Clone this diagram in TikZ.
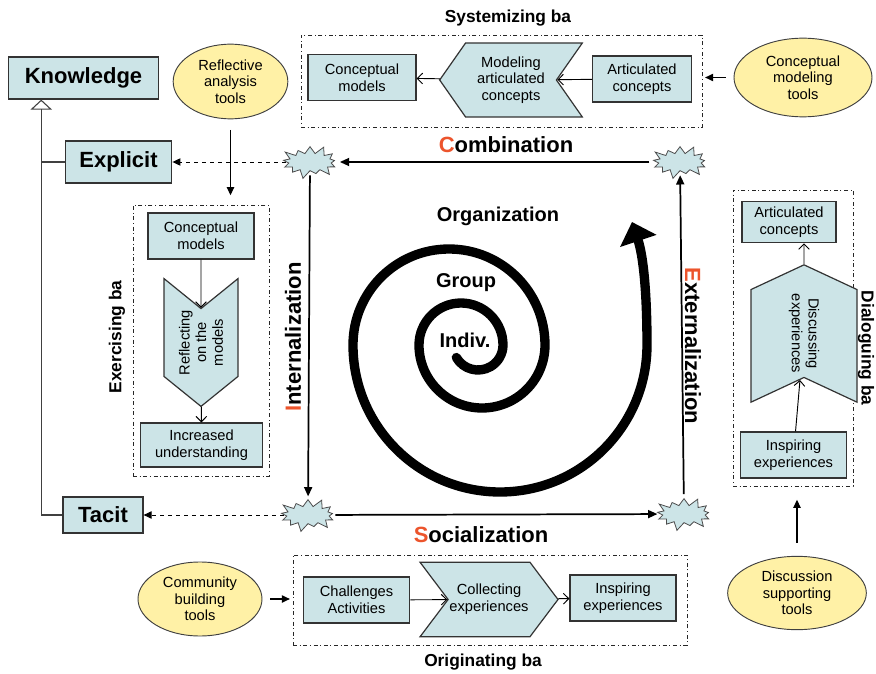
\documentclass[tikz,border=0pt]{standalone}
\usepackage{fontspec}
\setmainfont{Liberation Sans}
\usetikzlibrary{arrows.meta}
\usetikzlibrary{shapes.geometric}
\usetikzlibrary{shapes.symbols}
\usetikzlibrary{positioning}
\definecolor{boxblue}{RGB}{204,228,231}
\definecolor{toolyellow}{RGB}{255,241,166}
\definecolor{modered}{RGB}{236,84,44}
\tikzset{box/.style={draw=black!80, fill=boxblue, line width=0.9pt, align=center, font=\fontsize{11}{12.5}\selectfont, inner sep=1pt}}
\tikzset{kind/.style={box, font=\fontsize{16.5}{18}\selectfont\bfseries}}
\tikzset{tool/.style={ellipse, draw=black!75, fill=toolyellow, line width=0.7pt, align=center, font=\fontsize{11}{12.5}\selectfont, inner sep=0pt}}
\tikzset{chev/.style={signal, draw=black!80, fill=boxblue, line width=0.9pt, align=center, font=\fontsize{11}{12.5}\selectfont, inner sep=1pt}}
\tikzset{burst/.style={starburst, starburst points=13, starburst point height=7pt, draw=black!70, fill=boxblue, line width=0.6pt, inner sep=0pt, minimum width=46pt, minimum height=27pt}}
\tikzset{baframe/.style={draw=black!85, line width=0.7pt, dash dot}}
\tikzset{baname/.style={font=\fontsize{13}{15}\selectfont\bfseries}}
\tikzset{modename/.style={font=\fontsize{16.5}{18}\selectfont\bfseries}}
\tikzset{tier/.style={font=\fontsize{15}{17}\selectfont\bfseries}}
\tikzset{conv/.style={-{Triangle[length=7pt,width=6pt]}, line width=1.3pt}}
\tikzset{flow/.style={-{Straight Barb[length=4pt,width=8pt]}, line width=0.7pt}}
\tikzset{feed/.style={-{Triangle[length=6pt,width=5.5pt]}, line width=0.8pt}}
\tikzset{trace/.style={dashed, -{Triangle[length=6pt,width=5.5pt]}, line width=0.7pt}}
\tikzset{hier/.style={draw=black!75, line width=0.8pt}}
\newcommand{\initial}[1]{\textcolor{modered}{#1}}

\begin{document}
\begin{tikzpicture}[x=0.75pt, y=-0.75pt]
        \useasboundingbox (0,0) rectangle (876,674);

        % knowledge kinds
        \node[kind, minimum width=112pt, minimum height=31.5pt] (know) at (83.5,78) {Knowledge};
        \node[kind, minimum width=80pt, minimum height=31.5pt] (expl) at (118.5,162) {Explicit};
        \node[kind, minimum width=60pt, minimum height=27pt] (tacit) at (103,515) {Tacit};

        \draw[hier, -{Triangle[open, length=7.5pt, width=16pt]}]
            (tacit.west) -| ([xshift=24.75pt]know.south west);
        \draw[hier] (expl.west) -- ++(-17.25pt,0);

        % tools
        \node[tool, minimum width=86pt, minimum height=56pt] (refl-tool) at (230.5,81.5) {Reflective\\analysis\\tools};
        \node[tool, minimum width=103.5pt, minimum height=59pt] (cmt-tool) at (803,77.5) {Conceptual\\modeling\\tools};
        \node[tool, minimum width=93pt, minimum height=55.5pt] (cbt-tool) at (200,599) {Community\\building\\tools};
        \node[tool, minimum width=104pt, minimum height=55pt] (dst-tool) at (797,593) {Discussion\\supporting\\tools};

        % conversion points
        \node[burst] (s-tl) at (310,162) {};
        \node[burst] (s-tr) at (680,162) {};
        \node[burst] (s-bl) at (308,515) {};
        \node[burst] (s-br) at (684,514) {};

        % systemizing ba
        \node[baname] (sys-l) at (508,18) {Systemizing ba};
        \node[baframe, minimum width=300.75pt, minimum height=69pt] (sys-ba) at (501.5,81) {};
        \node[box, minimum width=81pt, minimum height=34pt] (sys-cm) at (362,77.5) {Conceptual\\models};
        \node[chev, signal to=west, signal from=east, signal pointer angle=110,
            minimum width=107pt, minimum height=55.5pt] (sys-mod) at (511,80) {Modeling\\articulated\\concepts};
        \node[box, minimum width=74pt, minimum height=34.5pt] (sys-ac) at (642,79) {Articulated\\concepts};
        \draw[flow] (sys-ac) -- (sys-mod);
        \draw[flow] (sys-mod) -- (sys-cm);

        % exercising ba
        \node[baname, rotate=90] (ex-l) at (117,337) {Exercising ba};
        \node[baframe, minimum width=102pt, minimum height=203.25pt] (ex-ba) at (201,340.5) {};
        \node[box, minimum width=79.5pt, minimum height=34.5pt] (ex-cm) at (201,236) {Conceptual\\models};
        \node[chev, rotate=90, signal to=west, signal from=east, signal pointer angle=102,
            minimum width=91pt, minimum height=55.5pt] (ex-refl) at (201,342.5) {Reflecting\\on the\\models};
        \node[box, minimum width=91pt, minimum height=33pt] (ex-iu) at (201.5,445) {Increased\\understanding};
        \draw[flow] (ex-cm) -- (ex-refl);
        \draw[flow] (ex-refl) -- (ex-iu);

        % dialoguing ba
        \node[baname, rotate=-90] (dl-l) at (866,348) {Dialoguing ba};
        \node[baframe, minimum width=90pt, minimum height=222pt] (dl-ba) at (793,338) {};
        \node[box, minimum width=70.5pt, minimum height=31pt] (dl-ac) at (789,222) {Articulated\\concepts};
        \node[chev, rotate=-90, signal to=west, signal from=east, signal pointer angle=130,
            minimum width=103pt, minimum height=79.5pt] (dl-disc) at (804,333.5) {Discussing\\experiences};
        \node[box, minimum width=80pt, minimum height=34.5pt] (dl-ie) at (793.5,455) {Inspiring\\experiences};
        \draw[flow] (dl-ie) -- (dl-disc);
        \draw[flow] (dl-disc) -- (dl-disc |- dl-ac.south);

        % originating ba
        \node[baname] (or-l) at (483,662) {Originating ba};
        \node[baframe, minimum width=295.5pt, minimum height=67.5pt] (or-ba) at (490,600) {};
        \node[box, minimum width=80pt, minimum height=34.5pt] (or-ca) at (356.5,600) {Challenges\\Activities};
        \node[chev, signal to=east, signal from=west, signal pointer angle=106,
            minimum width=96pt, minimum height=56pt] (or-coll) at (489,599.5) {Collecting\\experiences};
        \node[box, minimum width=79.5pt, minimum height=34.5pt] (or-ie) at (623,598) {Inspiring\\experiences};
        \draw[flow] (or-ca) -- (or-coll);
        \draw[flow] (or-coll) -- (or-ie);

        % tools feed the ba
        \draw[feed, shorten <=8pt, shorten >=7pt] (refl-tool) -- (refl-tool |- ex-ba.north);
        \draw[feed, shorten <=6pt, shorten >=2pt] (cmt-tool) -- (cmt-tool -| sys-ba.east);
        \draw[feed, shorten <=6pt, shorten >=2pt] (cbt-tool) -- (cbt-tool -| or-ba.west);
        \draw[feed, shorten <=10pt, shorten >=10pt] (dst-tool) -- (dst-tool |- dl-ba.south);

        % the four conversions
        \draw[conv, shorten <=5pt, shorten >=5pt] (s-tr) -- (s-tl);
        \draw[conv, shorten <=3pt, shorten >=2pt] (s-tl) -- (s-bl);
        \draw[conv, shorten <=3pt, shorten >=2pt] (s-bl) -- (s-br);
        \draw[conv, shorten <=3pt, shorten >=3pt] (s-br) -- (s-tr);
        \draw[trace] (s-tl) -- (expl);
        \draw[trace] (s-bl) -- (tacit);

        \node[modename] (comb-l) at (506,145) {\initial{C}ombination};
        \node[modename, rotate=90] (int-l) at (293,337) {\initial{I}nternalization};
        \node[modename] (soc-l) at (481,535) {\initial{S}ocialization};
        \node[modename, rotate=-90] (ext-l) at (693,346) {\initial{E}xternalization};

        % spiral
        \draw[line width=7pt, line cap=round, -{Triangle[length=15pt,width=28pt]}]
            (478,345) ++(150:25) arc[start angle=150, end angle=0, radius=25]
            arc[start angle=0, end angle=-180, radius=42]
            arc[start angle=180, end angle=0, radius=63]
            arc[start angle=0, end angle=-180, radius=96]
            arc[start angle=180, end angle=0, radius=147]
            .. controls (647,290) and (643,255) .. (632,222);
        \node[tier] (org) at (498,216) {Organization};
        \node[tier] (grp) at (466,283) {Group};
        \node[tier] (ind) at (465,340) {Indiv.};
\end{tikzpicture}
\end{document}
